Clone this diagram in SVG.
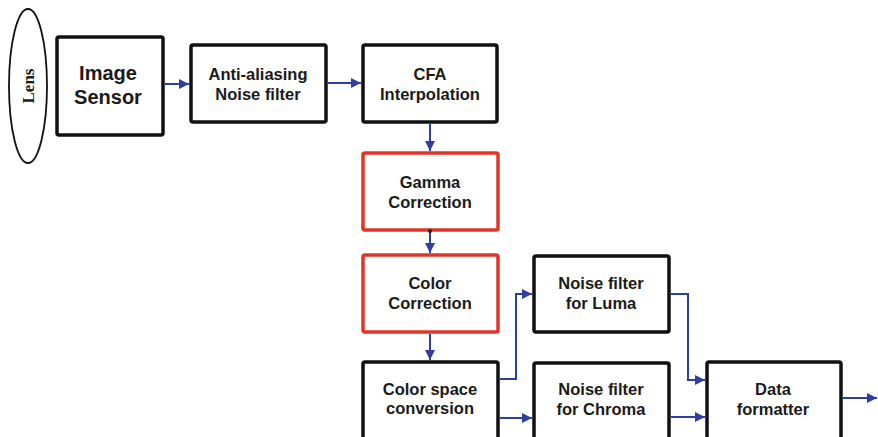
<svg xmlns="http://www.w3.org/2000/svg" width="878" height="437" viewBox="0 0 878 437">
  <style>
    .box { fill: #ffffff; stroke: #111111; stroke-width: 3.5; }
    .red { fill: #ffffff; stroke: #e0342a; stroke-width: 3.5; }
    .lbl { font-family: "Liberation Sans", Arial, sans-serif; font-weight: bold; font-size: 16.5px; fill: #1a1a1a; text-anchor: middle; }
    .big { font-size: 20px; }
    .wire { fill: none; stroke: #2e3f9f; stroke-width: 2; }
  </style>
  <defs>
    <marker id="arrow" viewBox="0 0 10 10" refX="10" refY="5" markerWidth="5.5" markerHeight="5" markerUnits="strokeWidth" orient="auto">
      <path d="M0,0 L10,5 L0,10 Z" fill="#2e3f9f"/>
    </marker>
    <marker id="dot" viewBox="0 0 4 4" refX="2" refY="2" markerWidth="2" markerHeight="2" markerUnits="strokeWidth">
      <circle cx="2" cy="2" r="2" fill="#222222"/>
    </marker>
  </defs>

  <!-- optics -->
  <g id="lens">
    <ellipse cx="28" cy="86" rx="19" ry="77" fill="#ffffff" stroke="#111111" stroke-width="1.8"/>
    <text transform="translate(34,86) rotate(-90)" text-anchor="middle" font-family="Liberation Serif, Times New Roman, serif" font-weight="bold" font-size="17" fill="#1a1a1a">Lens</text>
  </g>

  <g id="image-sensor">
    <rect class="box" x="57" y="37" width="106" height="98" rx="2" stroke-width="4"/>
    <text class="lbl big" x="108" y="80">Image</text>
    <text class="lbl big" x="108" y="104">Sensor</text>
  </g>

  <g id="anti-aliasing">
    <rect class="box" x="191" y="45" width="135" height="77" rx="2"/>
    <text class="lbl" x="258" y="80">Anti-aliasing</text>
    <text class="lbl" x="258" y="100">Noise filter</text>
  </g>

  <g id="cfa">
    <rect class="box" x="363" y="45" width="134" height="77" rx="2"/>
    <text class="lbl" x="430" y="80">CFA</text>
    <text class="lbl" x="430" y="100">Interpolation</text>
  </g>

  <g id="gamma">
    <rect class="red" x="363" y="153" width="135" height="77" rx="2"/>
    <text class="lbl" x="430" y="188">Gamma</text>
    <text class="lbl" x="430" y="208">Correction</text>
  </g>

  <g id="color-correction">
    <rect class="red" x="363" y="255" width="135" height="77" rx="2"/>
    <text class="lbl" x="430" y="289">Color</text>
    <text class="lbl" x="430" y="309">Correction</text>
  </g>

  <g id="color-space">
    <rect class="box" x="363" y="362" width="135" height="90" rx="2"/>
    <text class="lbl" x="430" y="395">Color space</text>
    <text class="lbl" x="430" y="414">conversion</text>
  </g>

  <g id="nf-luma">
    <rect class="box" x="534" y="256" width="135" height="76" rx="2"/>
    <text class="lbl" x="601" y="289">Noise filter</text>
    <text class="lbl" x="601" y="309">for Luma</text>
  </g>

  <g id="nf-chroma">
    <rect class="box" x="534" y="363" width="135" height="90" rx="2"/>
    <text class="lbl" x="601" y="395">Noise filter</text>
    <text class="lbl" x="601" y="415">for Chroma</text>
  </g>

  <g id="data-formatter">
    <rect class="box" x="707" y="362" width="134" height="90" rx="2"/>
    <text class="lbl" x="773" y="395">Data</text>
    <text class="lbl" x="773" y="415">formatter</text>
  </g>

  <!-- signal flow -->
  <g id="connectors">
    <path class="wire" d="M165,84 H189" marker-end="url(#arrow)"/>
    <path class="wire" d="M328,83 H361" marker-end="url(#arrow)"/>
    <path class="wire" d="M430,124 V151" marker-end="url(#arrow)"/>
    <path class="wire" d="M430,231 V253" marker-start="url(#dot)" marker-end="url(#arrow)"/>
    <path class="wire" d="M430,334 V360" marker-end="url(#arrow)"/>
    <path class="wire" d="M500,379 H516 V294 H532" marker-end="url(#arrow)"/>
    <path class="wire" d="M500,418 H532" marker-end="url(#arrow)"/>
    <path class="wire" d="M671,294 H688 V380 H705" marker-end="url(#arrow)"/>
    <path class="wire" d="M671,417 H705" marker-end="url(#arrow)"/>
    <path class="wire" d="M843,398 H877" marker-end="url(#arrow)"/>
  </g>
</svg>
